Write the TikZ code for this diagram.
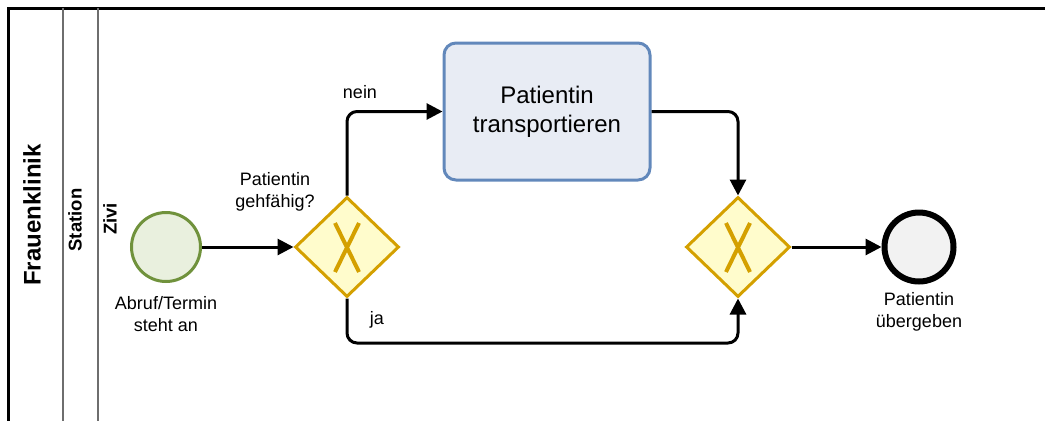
\documentclass[tikz,border=0pt]{standalone}
\usepackage{fontspec}
\setmainfont{Liberation Sans}
\usetikzlibrary{shapes.geometric,arrows.meta,calc}
\definecolor{startfill}{RGB}{233,240,222}
\definecolor{startdraw}{RGB}{112,146,60}
\definecolor{gwfill}{RGB}{255,252,204}
\definecolor{gwdraw}{RGB}{212,160,0}
\definecolor{taskfill}{RGB}{232,236,244}
\definecolor{taskdraw}{RGB}{98,136,187}
\definecolor{endfill}{RGB}{242,242,242}
\definecolor{lanegray}{RGB}{110,110,110}
\tikzset{
  lbl/.style={font=\fontsize{18}{22}\selectfont, align=center, inner sep=0pt},
  lanelbl/.style={font=\bfseries\fontsize{18.5}{22}\selectfont, rotate=90, inner sep=0pt},
  startev/.style={circle, draw=startdraw, fill=startfill, line width=3pt, minimum size=69pt, inner sep=0pt},
  endev/.style={circle, draw=black, fill=endfill, line width=6pt, minimum size=69pt, inner sep=0pt},
  gateway/.style={diamond, draw=gwdraw, fill=gwfill, line width=3pt, minimum width=104pt, minimum height=100pt, inner sep=0pt},
  taskbox/.style={rectangle, rounded corners=12pt, draw=taskdraw, fill=taskfill, line width=3pt, minimum width=206pt, minimum height=137pt, align=center, font=\fontsize{24}{29}\selectfont},
  flow/.style={line width=3pt, rounded corners=10pt, -{Triangle[length=16pt,width=16pt]}},
}
\begin{document}
\begin{tikzpicture}[x=1pt,y=-1pt]
\useasboundingbox (0,0) rectangle (1045,421);
% pool and lanes
\draw[line width=3pt] (1045,8) -- (8,8) -- (8,421);
\draw[lanegray, line width=1.6pt] (63,8) -- (63,421);
\draw[lanegray, line width=1.2pt] (98,8) -- (98,421);
\node[lanelbl, font=\bfseries\fontsize{24}{28}\selectfont] (pool) at (32,215) {Frauenklinik};
\node[lanelbl] (lane1) at (75,220) {Station};
\node[lanelbl] (lane2) at (110,219) {Zivi};
% nodes
\node[startev] (start) at (166,247) {};
\node[lbl] (startlbl) at (166,314) {Abruf/Termin\\steht an};
\node[gateway] (g1) at (347,247) {};
\draw[gwdraw, line width=4pt] ($(g1.center)+(-12,-24)$) -- ($(g1.center)+(12,25)$)
  ($(g1.center)+(12,-24)$) -- ($(g1.center)+(-12,25)$);
\node[lbl] (g1lbl) at (275,192) {Patientin\\gehfähig?};
\node[taskbox] (task) at (547,111.5) {Patientin\\transportieren};
\node[gateway] (g2) at (738,247) {};
\draw[gwdraw, line width=4pt] ($(g2.center)+(-12,-24)$) -- ($(g2.center)+(12,25)$)
  ($(g2.center)+(12,-24)$) -- ($(g2.center)+(-12,25)$);
\node[endev] (end) at (919,247) {};
\node[lbl] (endlbl) at (919,312) {Patientin\\übergeben};
\coordinate (jb) at (738,343);
% flows
\draw[flow] (start) -- (g1.west);
\draw[flow] (g1.north) |- (task.west);
\draw[flow] (g1.south) |- (jb) -- (g2.south);
\draw[flow] (task.east) -| (g2.north);
\draw[flow] (g2.east) -- (end.west);
\node[lbl] (nein) at (360,92) {nein};
\node[lbl] (ja) at (377,320) {ja};
\end{tikzpicture}
\end{document}
